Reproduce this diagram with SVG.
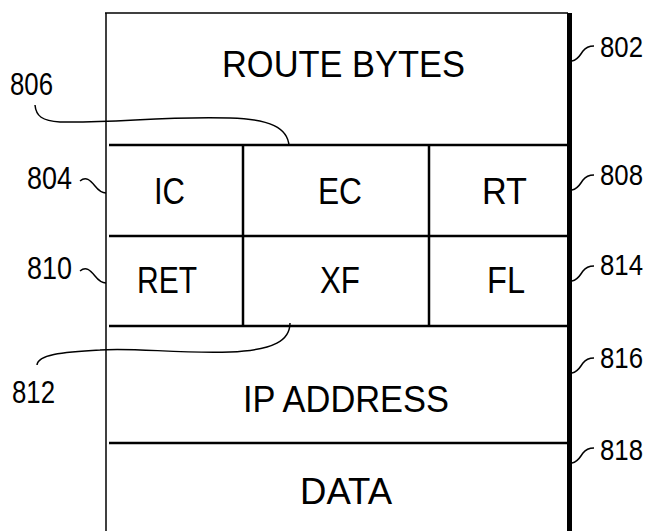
<svg xmlns="http://www.w3.org/2000/svg" width="651" height="531" viewBox="0 0 651 531">
<style>
.f{font-family:"Liberation Sans","Arial",sans-serif;fill:#000}
.t{font-size:36px}
.n{font-size:32px}
.r{font-size:29px}
.ln{stroke:#000;fill:none;stroke-width:2.5}
.th{stroke:#000;fill:none;stroke-width:1.5}
.ld{stroke:#000;fill:none;stroke-width:1.5}
</style>
<rect width="651" height="531" fill="#fff"/>
<g id="frame">
<line class="th" x1="106" y1="13" x2="106" y2="531"/>
<line class="th" x1="105" y1="13" x2="568" y2="13" stroke-width="2"/>
<line x1="569.5" y1="13" x2="569.5" y2="531" stroke="#000" stroke-width="5"/>
</g>
<g id="route-bytes">
<text class="f t" x="222" y="77" textLength="243" lengthAdjust="spacingAndGlyphs">ROUTE BYTES</text>
</g>
<g id="row-lines">
<line class="ln" x1="109" y1="145" x2="567" y2="145"/>
<line class="ln" x1="109" y1="236" x2="567" y2="236"/>
<line class="ln" x1="109" y1="326" x2="567" y2="326"/>
<line class="ln" x1="109" y1="443" x2="567" y2="443"/>
<line class="ln" x1="243" y1="145" x2="243" y2="326" stroke-width="2"/>
<line class="ln" x1="429" y1="145" x2="429" y2="326" stroke-width="2"/>
</g>
<g id="ic"><text class="f t" x="154" y="204" textLength="31" lengthAdjust="spacingAndGlyphs">IC</text></g>
<g id="ec"><text class="f t" x="318" y="204" textLength="44" lengthAdjust="spacingAndGlyphs">EC</text></g>
<g id="rt"><text class="f t" x="482" y="204" textLength="45" lengthAdjust="spacingAndGlyphs">RT</text></g>
<g id="ret"><text class="f t" x="137" y="293" textLength="60" lengthAdjust="spacingAndGlyphs">RET</text></g>
<g id="xf"><text class="f t" x="320" y="293" textLength="40" lengthAdjust="spacingAndGlyphs">XF</text></g>
<g id="fl"><text class="f t" x="487" y="293" textLength="38" lengthAdjust="spacingAndGlyphs">FL</text></g>
<g id="ip-address"><text class="f t" x="243" y="412" textLength="206" lengthAdjust="spacingAndGlyphs">IP ADDRESS</text></g>
<g id="data"><text class="f t" x="300" y="504" textLength="92" lengthAdjust="spacingAndGlyphs">DATA</text></g>
<g id="labels">
<text class="f n" x="10" y="95" textLength="43" lengthAdjust="spacingAndGlyphs">806</text>
<text class="f n" x="27" y="189" textLength="45" lengthAdjust="spacingAndGlyphs">804</text>
<text class="f n" x="27" y="279" textLength="45" lengthAdjust="spacingAndGlyphs">810</text>
<text class="f n" x="12" y="403" textLength="43" lengthAdjust="spacingAndGlyphs">812</text>
<text class="f r" x="600" y="57" textLength="43" lengthAdjust="spacingAndGlyphs">802</text>
<text class="f r" x="600" y="185" textLength="43" lengthAdjust="spacingAndGlyphs">808</text>
<text class="f r" x="600" y="275" textLength="43" lengthAdjust="spacingAndGlyphs">814</text>
<text class="f r" x="600" y="368" textLength="43" lengthAdjust="spacingAndGlyphs">816</text>
<text class="f r" x="600" y="460" textLength="43" lengthAdjust="spacingAndGlyphs">818</text>
</g>
<g id="connectors">
<path class="ld" d="M35,105 C36,116 42,121 60,122 C120,123 160,116 230,118 C270,119 288,128 289,146"/>
<path class="ld" d="M290,323 C290,340 275,350 230,352 C180,354 130,347 100,350 C60,352 38,355 37,365"/>
<path class="ld" d="M80,181 C86,176 90,180 95,186 C99,191 102,193 106,193"/>
<path class="ld" d="M80,271 C86,266 90,270 95,276 C99,281 102,283 106,283"/>
<path class="ld" d="M572,61 C578,60 580,55 583,51 C586,47 589,46 594,46"/>
<path class="ld" d="M572,190 C578,189 580,184 583,180 C586,176 589,175 594,175"/>
<path class="ld" d="M572,281 C578,280 580,275 583,271 C586,267 589,266 594,266"/>
<path class="ld" d="M572,373 C578,372 580,367 583,363 C586,359 589,358 594,358"/>
<path class="ld" d="M572,463 C578,462 580,457 583,453 C586,449 589,448 594,448"/>
</g>
</svg>
